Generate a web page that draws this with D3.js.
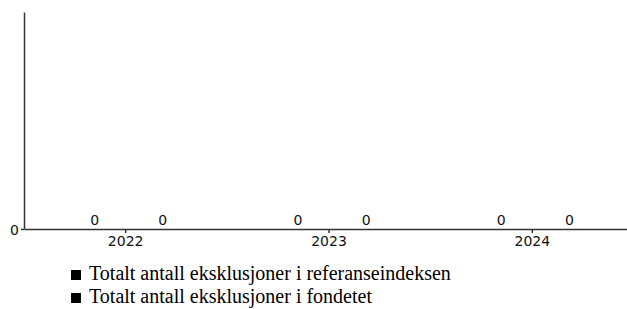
<!DOCTYPE html>
<html>
  <head>
    <meta charset="utf-8">
    <title>Eksklusjoner</title>
    <script src="https://d3js.org/d3.v7.min.js"></script>
    <style>
      body { margin: 0; background: #fff; }
      svg { display: block; }
      .axis path, .axis line { stroke: #333; stroke-width: 1.5; }
      .axis text { font-family: "DejaVu Sans", sans-serif; font-size: 14px; fill: #111; }
      .value { font-family: "DejaVu Sans", sans-serif; font-size: 14px; fill: #111; }
      .legend text { font-family: "Liberation Serif", "Times New Roman", serif; font-size: 20px; fill: #000; }
    </style>
  </head>
  <body>
    <svg id="chart" width="627" height="309"></svg>
    <script>
      // data
      var years = ["2022", "2023", "2024"];
      var seriesNames = [
        "Totalt antall eksklusjoner i referanseindeksen",
        "Totalt antall eksklusjoner i fondetet"
      ];
      var indexValues = [0, 0, 0];
      var fundValues = [0, 0, 0];
      var seriesColors = ["#000", "#000"];
      var yTicks = [0];

      var rows = years.map(function(y, i) {
        return { year: y, values: [indexValues[i], fundValues[i]] };
      });

      var width = 627, height = 309;
      var margin = { top: 12, right: -7, bottom: 80, left: 24 };
      var chart = d3.select("#chart");

      var x0 = d3.scaleBand()
        .domain(years)
        .range([margin.left, width - margin.right]);
      var x1 = d3.scaleBand()
        .domain([0, 1])
        .range([x0.bandwidth() * 0.18, x0.bandwidth() * 0.85]);
      var y = d3.scaleLinear()
        .domain([0, 1])
        .range([height - margin.bottom, margin.top]);

      // bars
      var groups = chart.append("g").selectAll("g")
        .data(rows)
        .join("g")
          .attr("transform", function(d) { return "translate(" + x0(d.year) + ",0)"; });
      groups.selectAll("rect")
        .data(function(d) { return d.values; })
        .join("rect")
          .attr("x", function(d, i) { return x1(i) + x1.bandwidth() * 0.2; })
          .attr("width", x1.bandwidth() * 0.6)
          .attr("y", function(d) { return y(d); })
          .attr("height", function(d) { return y(0) - y(d); })
          .attr("fill", function(d, i) { return seriesColors[i]; });
      groups.selectAll("text")
        .data(function(d) { return d.values; })
        .join("text")
          .attr("class", "value")
          .attr("x", function(d, i) { return x1(i) + x1.bandwidth() / 2; })
          .attr("y", function(d) { return y(d) - 4; })
          .attr("text-anchor", "middle")
          .text(function(d) { return d; });

      // axes
      chart.append("g")
        .attr("class", "axis")
        .attr("transform", "translate(0," + y(0) + ")")
        .call(d3.axisBottom(x0).tickSizeOuter(0).tickSizeInner(4).tickPadding(3));
      chart.append("g")
        .attr("class", "axis")
        .attr("transform", "translate(" + margin.left + ",0)")
        .call(d3.axisLeft(y).tickValues(yTicks).tickFormat(d3.format("d"))
          .tickSizeOuter(0).tickSizeInner(3).tickPadding(2))
        .selectAll("text").attr("dy", "0.4em");

      // legend
      var legend = chart.append("g")
        .attr("class", "legend")
        .selectAll("g")
        .data(seriesNames)
        .join("g")
          .attr("transform", function(d, i) { return "translate(71," + (280 + i * 23) + ")"; });
      legend.append("rect")
        .attr("x", 0).attr("y", -10)
        .attr("width", 10).attr("height", 10)
        .attr("fill", function(d, i) { return seriesColors[i]; });
      legend.append("text")
        .attr("x", 18)
        .attr("y", 0)
        .text(function(d) { return d; });
    </script>
  </body>
</html>
